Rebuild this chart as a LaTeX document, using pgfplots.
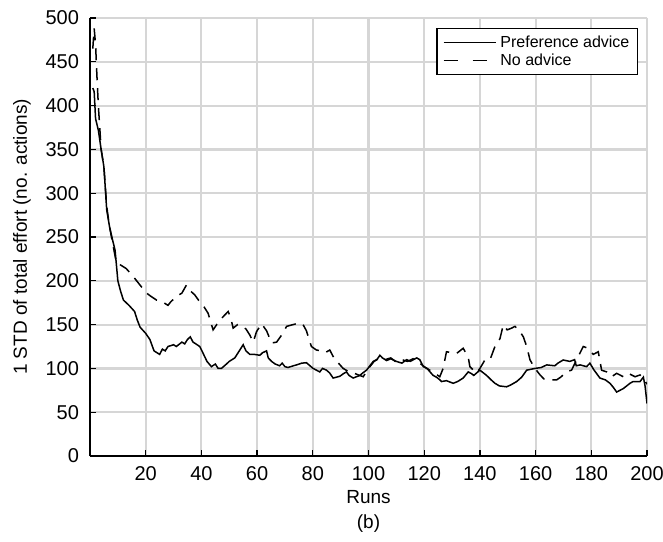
\documentclass[border=0pt]{standalone}
\usepackage{fontspec}
\setmainfont{Liberation Sans}
\usepackage{pgfplots}
\pgfplotsset{compat=1.18}
\begin{document}
\begin{tikzpicture}
\begin{axis}[
  scale only axis,
  width=278.5pt, height=219pt,
  xmin=0, xmax=200, ymin=0, ymax=500,
  axis lines=left,
  axis line style={-, black, line width=0.7pt},
  xtick={20,40,...,200},
  ytick={0,50,...,500},
  tick align=inside,
  major tick length=3pt,
  tick style={black, line width=0.6pt},
  xmajorgrids, ymajorgrids,
  grid style={color=black!16, line width=1.1pt},
  /pgf/number format/assume math mode=true,
  ticklabel style={font=\fontsize{10}{12}\selectfont},
  xticklabel style={yshift=-1.5pt},
  yticklabel style={xshift=-2pt},
  every axis x label/.style={at={(axis description cs:0.5,-0.109)}, anchor=base},
  every axis y label/.style={at={(axis description cs:-0.122,0.5)}, rotate=90, anchor=center},
  xlabel={Runs},
  xlabel style={font=\fontsize{9.5}{11}\selectfont},
  ylabel={1 STD of total effort (no. actions)},
  ylabel style={font=\fontsize{9.5}{11}\selectfont},
  legend style={at={(rel axis cs:1,1)}, anchor=north east, xshift=-4.5pt, yshift=-5pt,
    draw=black, line width=0.6pt, font=\fontsize{8}{9}\selectfont,
    inner xsep=3pt, inner ysep=2.25pt, row sep=-0.5pt, column sep=1pt,
    nodes={inner sep=1pt, text height=6pt, text depth=1.5pt},
    cells={anchor=west}},
  legend image code/.code={\draw[#1] (0pt,0pt) -- (26pt,0pt);},
]
\addplot[black, line width=0.75pt] coordinates {
(1,420)(1.5,416)(2,385)(3,372)(4,350)(5,330)(6,281)(7,262)(8,248)(9,235)(10,200)(11,188)(12,178)(14,172)(16,165)(17,155)(18,147)(20,140)(21.5,133)(23,120)(25,116)(26,122)(27,120)(28,125)(30,127)(31,125)(33,130)(34,128)(35,133)(36,136)(37,130)(38,128)(39.4,125)(40.5,118)(42,108)(43.6,102)(45,105)(46,100)(47.2,100)(49,105)(50,108)(52,112)(53.8,121)(55,127)(56,120)(57.4,116)(59,116)(61,115)(62,118)(63.4,120)(64,112)(65.2,108)(66.5,105)(68.1,103)(69,106)(70,102)(71.1,101)(73,103)(74.2,104)(76,106)(77.7,106.5)(79,103)(80.1,100)(82.5,96)(83.5,100)(84.9,98)(86,95)(87.3,89)(89.7,91)(91,94)(92.1,96)(93,92)(94.5,89)(96.9,92)(98,95)(99.3,98)(100.5,103)(101.7,108)(103,110)(104.1,115)(105,112)(106.5,109)(108,111)(110,108)(112,106)(113.7,110)(115,108)(117.3,112)(118.4,110)(119.7,102)(121,100)(123.2,92)(124.4,90)(125.6,87)(126.2,85)(128,86)(130.4,83)(132,85)(134,89)(135.8,96)(137,94)(137.8,92)(140,98)(142.4,92)(144,87)(145.4,83)(147,80)(149.6,79)(151,81)(153.2,85)(155,90)(156.8,98)(159.8,100)(162,101)(164,104)(166.9,103)(168,106)(169.9,109.6)(172.3,108)(174,110)(174.6,103)(176,104)(178.3,102)(179.5,106)(181,98)(183.1,89)(185,87)(186.7,83)(188,78)(189.1,73)(191.5,77)(193.9,83)(195,85)(197.5,85)(198.7,90)(199.3,80)(200,60)
};
\addlegendentry{Preference advice}
\addplot[black, line width=0.75pt, dash pattern=on 6pt off 4pt,
  legend image code/.code={\draw[black, line width=0.75pt, dash pattern=on 7pt off 7.5pt] (0pt,0pt) -- (26pt,0pt);}] coordinates {
(1,465)(1.5,488)(2,470)(2.5,433)(3,400)(3.5,375)(4,350)(5,330)(6,285)(7,262)(8,245)(9.5,220)(11,218)(13,214)(15.5,205)(18.5,193)(20.3,186)(22,182)(23.9,178)(26,176)(28,172)(29,176)(31,182)(33,186)(34.6,195)(35.5,190)(37.6,184)(39.4,176)(41,170)(42.4,163)(44.2,144)(45.5,150)(47.2,157)(49.6,165)(50.5,158)(51.4,146)(53,150)(54.6,148)(56,145)(57.4,138)(58.6,130)(59.8,142)(61.6,151)(63.4,143)(65.2,129)(67,130)(68.8,138)(70.6,148)(72.9,150)(75.3,152)(76.5,150)(77.7,143)(79.5,125)(81.3,121)(83.1,120)(84.5,118)(86.1,121)(87.9,110)(89.5,105)(90.9,100)(92.5,97)(94.5,95)(96,93)(98.1,90.5)(100,100)(102,108)(104,112)(106,110)(108,112)(110,107)(112,110)(114,108)(116,111)(118.4,106)(120,102)(122,98)(124,94)(125.6,90.5)(126.8,100)(128,119)(130,118)(131.6,117)(134,123)(135.8,113)(136.4,102)(138.8,94.6)(140,100)(141.8,109.6)(143.6,109.6)(145.4,125)(147.2,134)(148.4,149.5)(149.8,144)(151.4,146)(152.6,148)(154.4,142)(155.6,136)(156.8,125)(158,109.6)(159.8,100)(161.6,92.5)(163,88)(164.5,86.8)(167.5,86.8)(169,90)(171.1,96)(172.9,98)(174.7,109.6)(176,118)(177.1,125)(178.9,123)(180.7,116)(182.5,119)(183.7,98)(185.5,96)(187.3,90.5)(189.1,94.4)(191.5,90.5)(193.3,94.4)(195.7,90.5)(197.5,92.5)(198.7,88.7)(200,82)
};
\addlegendentry{No advice}
\coordinate (B) at (axis description cs:0.5,-0.166);
\coordinate (O) at (axis description cs:0,0);
\end{axis}
\node[anchor=base, font=\fontsize{9.5}{11}\selectfont] at (B) {(b)};
\pgfresetboundingbox
\path (O) ++(-45pt,-42.5pt) rectangle ++(331.5pt,270.5pt);
\end{tikzpicture}
\end{document}
